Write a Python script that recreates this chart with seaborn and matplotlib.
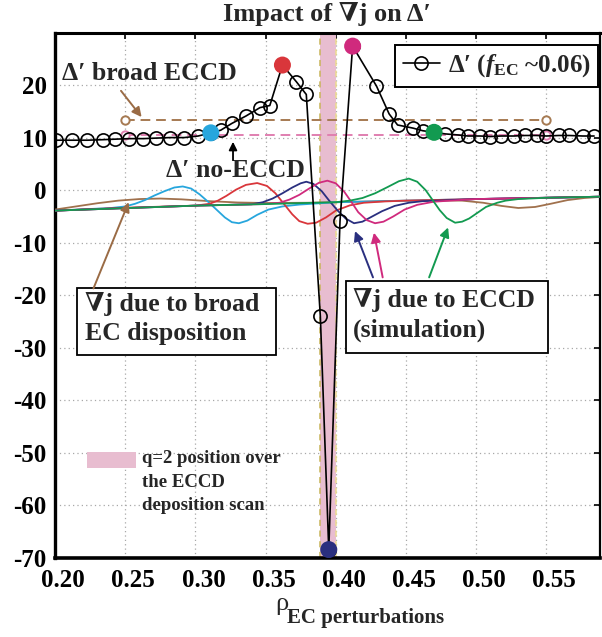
import matplotlib
matplotlib.use("Agg")
import matplotlib.pyplot as plt
import matplotlib.transforms as mtransforms
import seaborn as sns
import pandas as pd
from matplotlib.patches import Rectangle
from matplotlib.lines import Line2D
from matplotlib.ticker import FixedLocator, FixedFormatter

# ---------------- data ----------------
x_ticks = [0.20, 0.25, 0.30, 0.35, 0.40, 0.45, 0.50, 0.55]
x_tick_labels = ["0.20", "0.25", "0.30", "0.35", "0.40", "0.45", "0.50", "0.55"]
y_ticks = [-70, -60, -50, -40, -30, -20, -10, 0, 10, 20]
y_tick_labels = ["-70", "-60", "-50", "-40", "-30", "-20", "-10", "0", "10", "20"]

# Delta' (f_EC ~0.06)
dp_x = [0.201, 0.212, 0.223, 0.234, 0.243, 0.253, 0.263, 0.272, 0.282, 0.292,
        0.302, 0.311, 0.318, 0.326, 0.336, 0.346, 0.353, 0.362, 0.372, 0.379,
        0.389, 0.395, 0.403, 0.412, 0.429, 0.438, 0.444, 0.455, 0.462, 0.470,
        0.478, 0.487, 0.494, 0.503, 0.510, 0.518, 0.527, 0.535, 0.543, 0.550,
        0.559, 0.566, 0.576, 0.584]
dp_y = [9.5, 9.5, 9.5, 9.6, 9.7, 9.8, 9.8, 9.9, 10.0, 10.0,
        10.3, 10.9, 11.4, 12.7, 14.1, 15.7, 16.1, 23.8, 20.6, 18.2,
        -24.0, -68.4, -5.9, 27.4, 19.8, 14.5, 12.4, 11.8, 11.3, 11.0,
        10.7, 10.5, 10.3, 10.3, 10.2, 10.3, 10.3, 10.4, 10.4, 10.3,
        10.4, 10.4, 10.3, 10.3]

# highlighted scan points (filled)
hl_x = [0.311, 0.362, 0.395, 0.412, 0.470]
hl_y = [10.9, 23.8, -68.4, 27.4, 11.0]
hl_names = ["cyan", "red", "navy", "magenta", "green"]

# reference levels
broad_x = [0.25, 0.55]
broad_y = [13.3, 13.3]
noeccd_x = [0.25, 0.55]
noeccd_y = [10.5, 10.5]

# grad j curves
brown_x = [0.20, 0.215, 0.23, 0.245, 0.26, 0.275, 0.29, 0.31, 0.33, 0.35, 0.38, 0.41,
           0.44, 0.47, 0.49, 0.505, 0.518, 0.53, 0.542, 0.553, 0.565, 0.577, 0.588]
brown_y = [-3.7, -3.1, -2.5, -2.0, -1.7, -1.6, -1.75, -2.1, -2.35, -2.45, -2.4, -2.25,
           -2.05, -1.95, -2.0, -2.4, -3.0, -3.4, -3.2, -2.6, -1.9, -1.5, -1.3]

cyan_x = [0.20, 0.24, 0.25, 0.257, 0.264, 0.271, 0.278, 0.285, 0.291, 0.297, 0.303,
          0.309, 0.315, 0.321, 0.326, 0.331, 0.337, 0.344, 0.352, 0.362, 0.374, 0.40,
          0.45, 0.50, 0.55, 0.588]
cyan_y = [-3.9, -3.4, -3.1, -2.6, -1.9, -1.0, -0.2, 0.5, 0.7, 0.3, -0.8,
          -2.2, -3.7, -5.2, -6.1, -6.3, -5.8, -4.7, -3.7, -3.1, -2.75, -2.3,
          -2.0, -1.7, -1.45, -1.25]

red_x = [0.20, 0.25, 0.30, 0.31, 0.316, 0.322, 0.329, 0.336, 0.344, 0.351, 0.357,
         0.363, 0.369, 0.374, 0.380, 0.386, 0.393, 0.400, 0.41, 0.42, 0.435, 0.45,
         0.50, 0.55, 0.588]
red_y = [-3.9, -3.35, -2.95, -2.6, -2.0, -1.1, 0.1, 1.0, 1.35, 0.8, -0.6,
         -2.6, -4.6, -5.9, -6.4, -6.2, -5.2, -3.9, -2.9, -2.4, -2.15, -2.0,
         -1.7, -1.45, -1.25]

navy_x = [0.20, 0.30, 0.34, 0.348, 0.355, 0.362, 0.369, 0.375, 0.379, 0.384, 0.39,
          0.395, 0.401, 0.407, 0.413, 0.419, 0.426, 0.433, 0.442, 0.452, 0.462,
          0.50, 0.55, 0.588]
navy_y = [-3.9, -2.95, -2.7, -2.3, -1.6, -0.6, 0.5, 1.3, 1.6, 1.2, -0.2,
          -1.9, -3.8, -5.4, -6.3, -6.0, -5.0, -4.0, -3.0, -2.4, -2.1,
          -1.7, -1.45, -1.25]

magenta_x = [0.20, 0.30, 0.35, 0.36, 0.367, 0.374, 0.381, 0.388, 0.394, 0.400, 0.406,
             0.411, 0.416, 0.422, 0.428, 0.434, 0.441, 0.449, 0.458, 0.47, 0.49,
             0.50, 0.55, 0.588]
magenta_y = [-3.9, -2.95, -2.65, -2.4, -1.8, -0.9, 0.3, 1.4, 1.8, 1.3, -0.3,
             -2.2, -4.2, -5.7, -6.3, -6.0, -5.0, -3.7, -2.8, -2.2, -1.85,
             -1.7, -1.45, -1.25]

green_x = [0.20, 0.30, 0.35, 0.40, 0.41, 0.419, 0.428, 0.437, 0.445, 0.452, 0.458,
           0.464, 0.469, 0.474, 0.479, 0.485, 0.490, 0.495, 0.501, 0.507, 0.515,
           0.521, 0.53, 0.55, 0.588]
green_y = [-3.9, -2.95, -2.65, -2.3, -2.0, -1.5, -0.6, 0.6, 1.7, 2.2, 1.6,
           0.0, -1.9, -3.8, -5.3, -6.2, -6.0, -5.4, -4.3, -3.2, -2.4,
           -2.0, -1.7, -1.45, -1.25]

q2_band = [0.3885, 0.3999]

# ---------------- style ----------------
sns.set_style("white")
plt.rcParams['font.family'] = ['Liberation Serif', 'DejaVu Serif']
plt.rcParams['font.weight'] = 'bold'
plt.rcParams['mathtext.fontset'] = 'custom'
plt.rcParams['mathtext.rm'] = 'Liberation Serif:bold'
plt.rcParams['mathtext.it'] = 'Liberation Serif:italic'
plt.rcParams['mathtext.bf'] = 'Liberation Serif:bold'

COL = {"brown": "#a0714d", "cyan": "#27a6dd", "red": "#d9363b", "navy": "#2a2f7f",
       "magenta": "#d02a7d", "green": "#129a50"}
PINK_BAND = "#e8bdd0"

fig = plt.figure(figsize=(6.02, 6.37), dpi=100)
ax = fig.add_axes([55 / 602, 1 - 558 / 637, 545 / 602, 525 / 637])

# q=2 band
ax.axvspan(q2_band[0], q2_band[1], color=PINK_BAND, lw=0, zorder=1)
ax.axvline(q2_band[0], color="#c8b458", ls=(0, (4, 3)), lw=1.1, zorder=1.5)
ax.axvline(q2_band[1], color="#ecdc90", ls=(0, (4, 3)), lw=1.1, zorder=1.5)

# grad j curves
curves = [("brown", brown_x, brown_y), ("cyan", cyan_x, cyan_y), ("red", red_x, red_y),
          ("navy", navy_x, navy_y), ("magenta", magenta_x, magenta_y),
          ("green", green_x, green_y)]
for i, (name, xs, ys) in enumerate(curves):
    sns.lineplot(x=xs, y=ys, color=COL[name], lw=1.3, sort=False, estimator=None,
                 ax=ax, zorder=3 + i * 0.01)

# reference dashed levels
sns.lineplot(x=broad_x, y=broad_y, color="#a67a52", lw=1.4, ax=ax, sort=False,
             estimator=None, zorder=3.5)
ax.lines[-1].set_linestyle((0, (5, 3)))
ax.plot(broad_x, broad_y, ls="none", marker="o", ms=6, mfc="white", mec="#a67a52",
        mew=1.4, zorder=3.6)
sns.lineplot(x=noeccd_x, y=noeccd_y, color="#e07fb0", lw=1.4, ax=ax, sort=False,
             estimator=None, zorder=3.5)
ax.lines[-1].set_linestyle((0, (5, 3)))
ax.plot(noeccd_x, noeccd_y, ls="none", marker="o", ms=6, mfc="white", mec="#e07fb0",
        mew=1.4, zorder=3.6)

# Delta'
sns.lineplot(x=dp_x, y=dp_y, color="black", lw=1.2, marker="o", markersize=9.5,
             markerfacecolor="none", markeredgecolor="black", markeredgewidth=1.2,
             sort=False, estimator=None, ax=ax, zorder=5)
sns.scatterplot(x=hl_x, y=hl_y, hue=hl_names, palette=[COL[n] for n in hl_names],
                s=150, edgecolor="none", legend=False, ax=ax, zorder=6)

# axes formatting
ax.set_xlim(0.20, 0.5882)
ax.set_ylim(-70, 29.9)
ax.xaxis.set_major_locator(FixedLocator(x_ticks))
ax.xaxis.set_major_formatter(FixedFormatter(x_tick_labels))
ax.yaxis.set_major_locator(FixedLocator(y_ticks))
ax.yaxis.set_major_formatter(FixedFormatter(y_tick_labels))
ax.grid(True, ls=(0, (1, 2.5)), color="#a8a8a8", lw=0.9)
ax.set_axisbelow(True)
ax.tick_params(direction="in", length=4, width=1.2, top=True, right=True,
               labelsize=18, pad=6, colors="black")
ax.tick_params(axis="x", pad=8)
shift = mtransforms.ScaledTranslation(8 / 100, 0, fig.dpi_scale_trans)
for lab in ax.get_xticklabels():
    lab.set_fontweight("bold")
    lab.set_transform(lab.get_transform() + shift)
for lab in ax.get_yticklabels():
    lab.set_fontweight("bold")
for side, w in [("left", 2.4), ("bottom", 2.6), ("top", 2.2), ("right", 1.6)]:
    ax.spines[side].set_linewidth(w)
    ax.spines[side].set_color("black")
ax.set_xlabel("")
ax.set_ylabel("")

# legend
h = Line2D([], [], color="black", lw=1.2, marker="o", ms=9.5, mfc="none", mec="black",
           mew=1.2)
leg = ax.legend([h], [r"Δ′ ($f_{\mathbf{EC}}$ ~0.06)"], loc="upper right",
                bbox_to_anchor=(0.9963, 0.977), borderaxespad=0, frameon=True,
                fancybox=False, edgecolor="black", framealpha=1, handlelength=1.5,
                handletextpad=0.3, borderpad=0.3, prop={"size": 18, "weight": "bold"})
leg.get_frame().set_linewidth(1.4)
leg.set_zorder(8)

# annotations
ax.text(0.205, 22.1, "Δ′ broad ECCD", ha="left", va="center", fontsize=18.5,
        fontweight="bold", zorder=7)
ax.annotate("", xy=(0.2617, 13.9), xytext=(0.247, 18.9),
            arrowprops=dict(arrowstyle="-|>", color="#9a6b45", lw=1.4,
                            mutation_scale=14, shrinkA=0, shrinkB=0), zorder=7)
ax.text(0.2788, 3.8, "Δ′ no-ECCD", ha="left", va="center", fontsize=18.5,
        fontweight="bold", zorder=7)
ax.annotate("", xy=(0.3268, 9.2), xytext=(0.3268, 5.7),
            arrowprops=dict(arrowstyle="-|>", color="black", lw=1.3,
                            mutation_scale=12, shrinkA=0, shrinkB=0), zorder=7)

# box: broad EC deposition
ax.add_patch(Rectangle((0.2157, -31.4), 0.3574 - 0.2157, 31.4 - 18.7, fc="white",
                       ec="black", lw=1.3, zorder=7))
ax.text(0.2215, -21.6, "∇j due to broad", ha="left", va="center", fontsize=18.5,
        fontweight="bold", zorder=8)
ax.text(0.2215, -27.3, "EC disposition", ha="left", va="center", fontsize=18.5,
        fontweight="bold", zorder=8)
ax.annotate("", xy=(0.2525, -2.3), xytext=(0.2274, -18.7),
            arrowprops=dict(arrowstyle="-|>", color="#9a6b45", lw=1.4,
                            mutation_scale=14, shrinkA=0, shrinkB=0), zorder=7)

# box: ECCD simulation
ax.add_patch(Rectangle((0.4073, -30.9), 0.5511 - 0.4073, 30.9 - 17.3, fc="white",
                       ec="black", lw=1.3, zorder=7))
ax.text(0.4122, -21.0, "∇j due to ECCD", ha="left", va="center", fontsize=18.5,
        fontweight="bold", zorder=8)
ax.text(0.4122, -26.7, "(simulation)", ha="left", va="center", fontsize=18.5,
        fontweight="bold", zorder=8)
for col, head, tail in [(COL["navy"], (0.4137, -7.8), (0.4265, -16.6)),
                        (COL["magenta"], (0.4272, -8.1), (0.4334, -16.6)),
                        (COL["green"], (0.480, -7.1), (0.4665, -16.6))]:
    ax.annotate("", xy=head, xytext=tail,
                arrowprops=dict(arrowstyle="-|>", color=col, lw=1.4,
                                mutation_scale=14, shrinkA=0, shrinkB=0), zorder=7)

# q=2 legend
ax.add_patch(Rectangle((0.223, -52.8), 0.035, 2.95, fc=PINK_BAND, ec="none", zorder=7))
for yy, s in [(-51.1, "q=2 position over"), (-55.6, "the ECCD"),
              (-60.0, "deposition scan")]:
    ax.text(0.2622, yy, s, ha="left", va="center", fontsize=13.5, fontweight="bold",
            zorder=8)

# title and x label
fig.text(327 / 602, 1 - 14 / 637, "Impact of ∇j on Δ′", ha="center", va="center",
         fontsize=19, fontweight="bold")
fig.text(275 / 602, 1 - 604 / 637, "ρ", ha="left", va="center", fontsize=19,
         fontweight="normal")
fig.text(287 / 602, 1 - 618 / 637, "EC perturbations", ha="left", va="center",
         fontsize=15, fontweight="bold")

fig.savefig("out.png", dpi=100)
